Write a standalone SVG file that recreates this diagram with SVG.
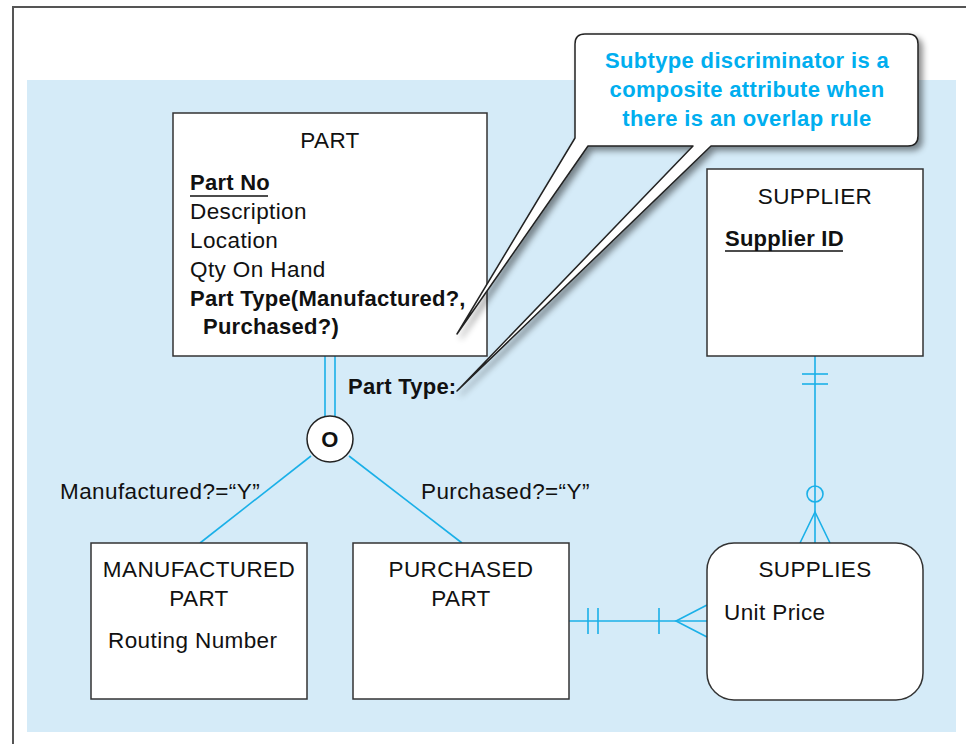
<svg xmlns="http://www.w3.org/2000/svg" width="966" height="744" viewBox="0 0 966 744">
<defs>
<style>
.ent{fill:#fff;stroke:#333;stroke-width:1.5}
.t{font-family:"Liberation Sans",Arial,sans-serif;font-size:22.5px;letter-spacing:0.4px;fill:#111}
.b{font-weight:bold;font-size:22px;letter-spacing:0.25px}
.c{text-anchor:middle}
.ln{fill:none;stroke:#1ab0e8;stroke-width:1.6}
.ul{stroke:#111;stroke-width:1.6}
.call{font-family:"Liberation Sans",Arial,sans-serif;font-size:22px;letter-spacing:0.35px;font-weight:bold;fill:#00aeef;text-anchor:middle}
</style>
<filter id="sh" x="-20%" y="-20%" width="140%" height="140%">
<feDropShadow dx="4" dy="4" stdDeviation="3" flood-color="#000" flood-opacity="0.45"/>
</filter>
</defs>
<rect x="0" y="0" width="966" height="744" fill="#fff"/>
<rect x="13" y="7" width="1000" height="800" fill="none" stroke="#555" stroke-width="2"/>
<rect x="27" y="80" width="929" height="652" fill="#d5ebf8"/>

<g id="connectors">
<line class="ln" x1="325" y1="356" x2="325" y2="416"/>
<line class="ln" x1="335" y1="356" x2="335" y2="416"/>
<line class="ln" x1="311" y1="456" x2="200" y2="543"/>
<line class="ln" x1="349" y1="456" x2="462" y2="543"/>
<line class="ln" x1="815" y1="356" x2="815" y2="543"/>
<line class="ln" x1="802" y1="374" x2="828" y2="374"/>
<line class="ln" x1="802" y1="384" x2="828" y2="384"/>
<circle class="ln" cx="815" cy="494" r="8"/>
<polyline class="ln" points="800,543 815,512 830,543"/>
<line class="ln" x1="569" y1="621" x2="707" y2="621"/>
<line class="ln" x1="588" y1="608" x2="588" y2="634"/>
<line class="ln" x1="598" y1="608" x2="598" y2="634"/>
<line class="ln" x1="659" y1="608" x2="659" y2="634"/>
<polyline class="ln" points="707,605 676,621 707,637"/>
<text class="t" x="60" y="499">Manufactured?=“Y”</text>
<text class="t" x="421" y="499">Purchased?=“Y”</text>
</g>

<g id="part">
<rect class="ent" x="173" y="113" width="314" height="243"/>
<text class="t c" x="330" y="148">PART</text>
<text class="t b" x="190" y="190">Part No</text>
<line class="ul" x1="190" y1="196" x2="268" y2="196"/>
<text class="t" x="190" y="219">Description</text>
<text class="t" x="190" y="248">Location</text>
<text class="t" x="190" y="277">Qty On Hand</text>
<text class="t b" x="190" y="306">Part Type(Manufactured?,</text>
<text class="t b" x="203" y="334">Purchased?)</text>
</g>

<g id="discriminator">
<text class="t b" x="348" y="394">Part Type:</text>
</g>

<g id="overlap">
<circle cx="330" cy="439" r="23" fill="#fff" stroke="#222" stroke-width="1.5"/>
<text class="t b c" x="330" y="447">O</text>
</g>

<g id="supplier">
<rect class="ent" x="707" y="169" width="216" height="187"/>
<text class="t c" x="815" y="204">SUPPLIER</text>
<text class="t b" x="725" y="246">Supplier ID</text>
<line class="ul" x1="725" y1="251" x2="843" y2="251"/>
</g>

<g id="manufactured">
<rect class="ent" x="91" y="543" width="216" height="156"/>
<text class="t c" x="199" y="577">MANUFACTURED</text>
<text class="t c" x="199" y="606">PART</text>
<text class="t" x="108" y="648">Routing Number</text>
</g>

<g id="purchased">
<rect class="ent" x="353" y="543" width="216" height="156"/>
<text class="t c" x="461" y="577">PURCHASED</text>
<text class="t c" x="461" y="606">PART</text>
</g>

<g id="supplies">
<rect class="ent" x="707" y="543" width="216" height="157" rx="27" ry="27"/>
<text class="t c" x="815" y="577">SUPPLIES</text>
<text class="t" x="724" y="620">Unit Price</text>
</g>

<g id="callout">
<path d="M585 34 H908 Q918 34 918 44 V136 Q918 146 908 146 H711 L457 391 L693 146 H588 L457 334 L575 138 V44 Q575 34 585 34 Z" fill="#fff" stroke="#222" stroke-width="1.5" stroke-linejoin="round" filter="url(#sh)"/>
<text class="call" x="747" y="68">Subtype discriminator is a</text>
<text class="call" x="747" y="97">composite attribute when</text>
<text class="call" x="747" y="126">there is an overlap rule</text>
</g>
</svg>
